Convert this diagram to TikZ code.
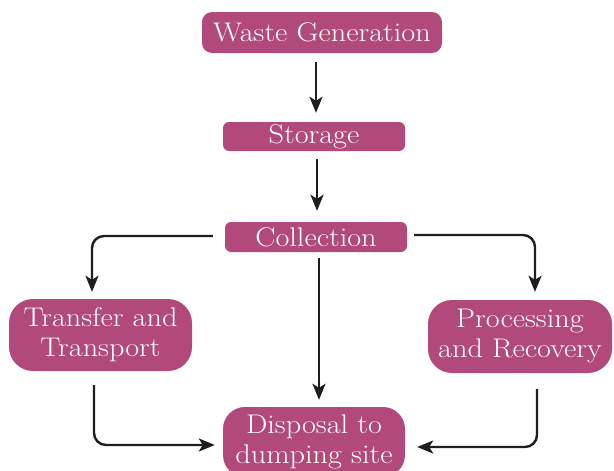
\documentclass[tikz,border=0pt]{standalone}
\usepackage{fontspec}
\usetikzlibrary{arrows.meta,calc}
\definecolor{boxpink}{RGB}{177,74,122}
\definecolor{linedark}{RGB}{30,30,30}
\newcommand\widetxt[1]{\scalebox{1.12}[1]{#1}}
\tikzset{
  stage/.style={fill=boxpink, text=white, inner sep=0pt, align=center,
    font=\fontsize{27}{30}\selectfont},
  arr/.style={draw=linedark, line width=2.4pt,
    -{Stealth[length=16pt,width=13pt,inset=4pt]}},
}
\begin{document}
\begin{tikzpicture}[x=1pt,y=-1pt]
\useasboundingbox (0,0) rectangle (614,471);
\begin{scope}
\clip (0,0) rectangle (614,471);
\node[stage, minimum width=240pt, minimum height=41pt, rounded corners=10pt] (gen) at (322,32.5) {\widetxt{Waste Generation}};
\node[stage, minimum width=182pt, minimum height=29pt, rounded corners=6pt] (stor) at (314,136.5) {\widetxt{Storage}};
\node[stage, minimum width=182pt, minimum height=30pt, rounded corners=6pt] (coll) at (316,237) {\widetxt{Collection}};
\node[stage, minimum width=183pt, minimum height=72pt, rounded corners=24pt] (trans) at (100.5,335) {\widetxt{Transfer and}\\\widetxt{Transport}};
\node[stage, minimum width=184pt, minimum height=73pt, rounded corners=24pt] (proc) at (520,336.5) {\widetxt{Processing}\\\widetxt{and Recovery}};
\node[stage, minimum width=182pt, minimum height=70pt, rounded corners=22pt] (disp) at (314,442) {\widetxt{Disposal to}\\\widetxt{dumping site}};
\end{scope}
\draw[arr] ($(gen.south)+(-6,9)$) -- ($(stor.north)+(2,-9)$);
\draw[arr] ($(stor.south)+(3,8)$) -- ($(coll.north)+(1,-11)$);
\draw[arr, rounded corners=12pt] ($(coll.west)+(-12,-1)$) -| ($(trans.north)+(-8.5,-7)$);
\draw[arr, rounded corners=12pt] ($(coll.east)+(7,-2)$) -| ($(proc.north)+(15,-8)$);
\draw[arr] ($(coll.south)+(3,6)$) -- ($(disp.north)+(5,-7)$);
\draw[arr, rounded corners=12pt] ($(trans.south)+(-6.5,14)$) |- ($(disp.west)+(-8,3)$);
\draw[arr, rounded corners=12pt] ($(proc.south)+(17,16)$) |- ($(disp.east)+(12,5)$);
\end{tikzpicture}
\end{document}
